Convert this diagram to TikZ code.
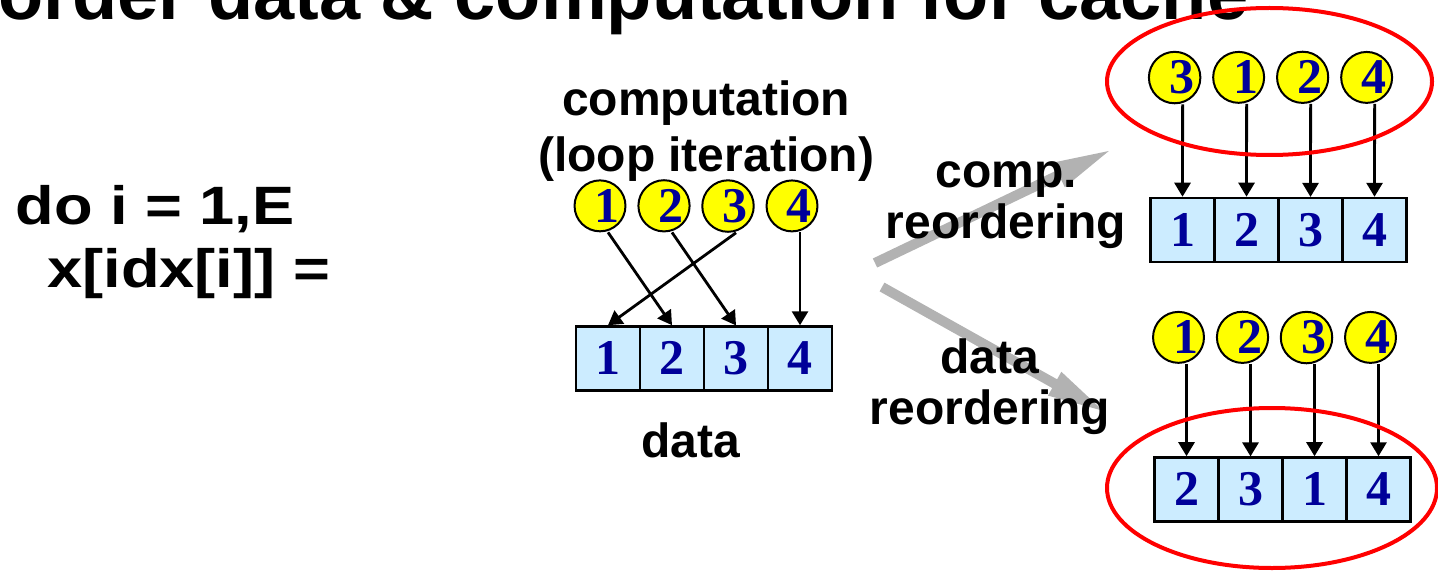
\documentclass[tikz,border=0pt]{standalone}
\usepackage{fontspec}
\setmainfont{Liberation Sans}
\newfontfamily\numfont{Liberation Serif}
\usepackage{tikz}
\usetikzlibrary{arrows.meta,matrix}

\definecolor{ballyellow}{RGB}{255,255,0}
\definecolor{cellblue}{RGB}{204,236,255}
\definecolor{numblue}{RGB}{0,0,153}
\definecolor{fatgray}{RGB}{178,178,178}

\tikzset{
  iterball/.style={circle,draw,line width=1pt,fill=ballyellow,minimum size=24pt,
               inner sep=0pt,text=numblue,execute at begin node=\kern7pt,
               font=\numfont\bfseries\fontsize{25}{25}\selectfont},
  datacell/.style={rectangle,draw,line width=1.2pt,fill=cellblue,minimum width=32pt,
               minimum height=32pt,inner sep=0pt,text=numblue,
               font=\numfont\bfseries\fontsize{25}{25}\selectfont},
  ballrow/.style={matrix of nodes,column sep={32pt,between origins},nodes={iterball}},
  cellrow/.style={matrix of nodes,column sep={32pt,between origins},nodes={datacell}},
  lbl/.style={align=center,inner sep=0pt,font=\bfseries\fontsize{24}{25.5}\selectfont},
  code/.style={inner sep=0pt,xscale=1.17,font=\bfseries\fontsize{27}{27}\selectfont},
  fat/.style={draw=fatgray,line width=5pt,-{Triangle[length=30pt,width=12pt]}},
  ring/.style={draw=red,line width=2pt}
}

\begin{document}
\begin{tikzpicture}[x=0.5pt,y=-0.5pt,>={Triangle[length=7pt,width=8pt]}]
  \useasboundingbox (0,0) rectangle (1438,572) ;
  \clip (0,0) rectangle (1438,572) ;
%
  \node [inner sep=0pt,anchor=base west,font=\bfseries\fontsize{37}{37}\selectfont]
    (head) at (-2,20) {order data \& computation for cache} ;
%
  \node [code,anchor=base west] (loop) at (15,225) {do i = 1,E} ;
  \node [code,anchor=base west] (body) at (47,287) {x[idx[i]] =} ;
%
  % original order
  \matrix [ballrow] (ci) at (696,206) {
  |[name=ci1]| 1 & |[name=ci2]| 2 & |[name=ci3]| 3 & |[name=ci4]| 4 \\
  } ;
  \matrix [cellrow] (cd) at (704,358.5) {
  |[name=cd1]| 1 & |[name=cd2]| 2 & |[name=cd3]| 3 & |[name=cd4]| 4 \\
  } ;
%
  \draw [->,line width=1.4pt] ([xshift=4pt]ci1.south) -- (cd2.north) ;
  \draw [->,line width=1.4pt] ([xshift=4pt]ci2.south) -- (cd3.north) ;
  \draw [->,line width=1.4pt] ([xshift=4pt]ci3.south) -- (cd1.north) ;
  \draw [->,line width=1.4pt] ([xshift=4pt]ci4.south) -- (cd4.north) ;
%
  \node [lbl,font=\bfseries\fontsize{24}{28}\selectfont] (comp) at (706,131)
    {computation\\(loop iteration)} ;
  \node [lbl,anchor=base] (data) at (691,457) {data} ;
%
  % the two ways out
  \coordinate (cs) at (875,263) ;
  \coordinate (ce) at (1113,149) ;
  \coordinate (ds) at (882,287) ;
  \coordinate (de) at (1107,413) ;
  \draw [fat] (cs) -- (ce) ;
  \draw [fat] (ds) -- (de) ;
%
  \node [lbl] (creo) at (1006,205) {comp.\\reordering} ;
  \node [lbl] (dreo) at (990,387) {data\\reordering} ;
%
  % computation reordered
  \matrix [ballrow] (ti) at (1270.5,77.5) {
  |[name=ti1]| 3 & |[name=ti2]| 1 & |[name=ti3]| 2 & |[name=ti4]| 4 \\
  } ;
  \matrix [cellrow] (td) at (1278.5,230) {
  |[name=td1]| 1 & |[name=td2]| 2 & |[name=td3]| 3 & |[name=td4]| 4 \\
  } ;
%
  \draw [->,line width=1.4pt] ([xshift=4pt]ti1.south) -- (td1.north) ;
  \draw [->,line width=1.4pt] ([xshift=4pt]ti2.south) -- (td2.north) ;
  \draw [->,line width=1.4pt] ([xshift=4pt]ti3.south) -- (td3.north) ;
  \draw [->,line width=1.4pt] ([xshift=4pt]ti4.south) -- (td4.north) ;
%
  % data reordered
  \matrix [ballrow] (bi) at (1274.5,337.5) {
  |[name=bi1]| 1 & |[name=bi2]| 2 & |[name=bi3]| 3 & |[name=bi4]| 4 \\
  } ;
  \matrix [cellrow] (bd) at (1282.5,489.5) {
  |[name=bd1]| 2 & |[name=bd2]| 3 & |[name=bd3]| 1 & |[name=bd4]| 4 \\
  } ;
%
  \draw [->,line width=1.4pt] ([xshift=4pt]bi1.south) -- (bd1.north) ;
  \draw [->,line width=1.4pt] ([xshift=4pt]bi2.south) -- (bd2.north) ;
  \draw [->,line width=1.4pt] ([xshift=4pt]bi3.south) -- (bd3.north) ;
  \draw [->,line width=1.4pt] ([xshift=4pt]bi4.south) -- (bd4.north) ;
%
  \draw [ring] (1269.5,81.5) ellipse (81.25pt and 36.75pt) ;
  \draw [ring] (1272,488) ellipse (82.5pt and 40pt) ;
\end{tikzpicture}
\end{document}
